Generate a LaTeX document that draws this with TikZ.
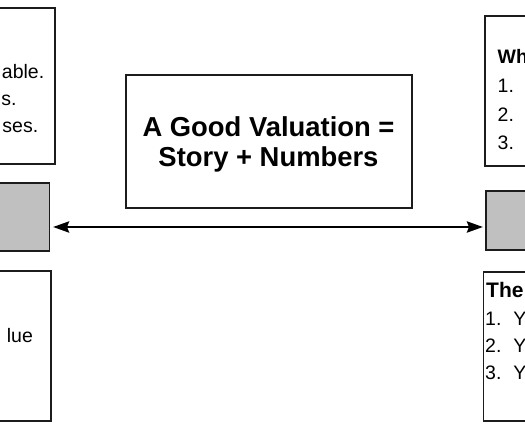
\documentclass[tikz,border=0pt]{standalone}
\usepackage{fontspec}
\setmainfont{Liberation Sans}
\usetikzlibrary{arrows.meta}
\definecolor{boxgrey}{RGB}{192,192,192}
\definecolor{edgecol}{RGB}{28,28,28}
\newcommand\smallfnt{\fontsize{19.5pt}{27pt}\selectfont}
\newcommand\headfnt{\fontsize{21pt}{27pt}\selectfont\bfseries}
\newcommand\bigfnt{\fontsize{27.4pt}{30pt}\selectfont\bfseries}
\begin{document}
\begin{tikzpicture}[x=1pt,y=-1pt,
  box/.style={draw=edgecol, line width=1.6pt, fill=white, inner sep=0pt, outer sep=0pt, anchor=north west},
  greybox/.style={box, fill=boxgrey},
  smallw/.style={font=\smallfnt, inner sep=0pt, anchor=base west},
  smalle/.style={smallw, anchor=base east},
  smallb/.style={smallw, font=\smallfnt\bfseries},
  headb/.style={smallw, font=\headfnt},
  big/.style={font=\bigfnt, inner sep=0pt, anchor=base},
  arr/.style={{Stealth[length=16pt,width=11pt,inset=2pt]}-{Stealth[length=16pt,width=11pt,inset=2pt]}, line width=2.8pt, draw=black}]
\useasboundingbox[fill=white] (0,0) rectangle (525,438);
% left column
\node[box, minimum width=65pt, minimum height=156pt] (LT) at (-10,8) {};
\node[greybox, minimum width=59.5pt, minimum height=68pt] (LG) at (-10,183) {};
\node[box, minimum width=61pt, minimum height=150pt] (LB) at (-10,271) {};
% centre
\node[box, minimum width=286pt, minimum height=133pt] (C) at (126,75) {};
% right column
\node[box, minimum width=60pt, minimum height=150pt] (RT) at (485,16) {};
\node[greybox, minimum width=59pt, minimum height=59pt] (RG) at (486,191) {};
\node[box, minimum width=61.5pt, minimum height=149pt] (RB) at (483.5,272) {};
% arrow
\draw[arr, shorten <=3.5pt, shorten >=3pt] (LG.east |- 0,227) -- (RG.west |- 0,227);
% texts left
\node[smalle] (lt1) at (44.4,79) {able.};
\node[smalle] (lt2) at (16.7,106) {s.};
\node[smalle] (lt3) at (38.4,133) {ses.};
\node[smalle] (lb1) at (33.1,343) {lue};
% centre text
\node[big] (c1) at (268.5,136.7) {A Good Valuation =};
\node[big] (c2) at (268.5,166.7) {Story + Numbers};
% texts right top
\node[smallb] (rt0) at (497.5,64) {Wh};
\node[smallw] (rt1) at (497.5,93) {1.};
\node[smallw] (rt2) at (497.5,121.5) {2.};
\node[smallw] (rt3) at (497.5,150) {3.};
% texts right bottom
\node[headb] (rb0) at (486,298) {The};
\node[smallw] (rb1) at (485,326) {1.\hspace{12pt}Y};
\node[smallw] (rb2) at (485,353) {2.\hspace{12pt}Y};
\node[smallw] (rb3) at (485,380) {3.\hspace{12pt}Y};
\end{tikzpicture}
\end{document}
